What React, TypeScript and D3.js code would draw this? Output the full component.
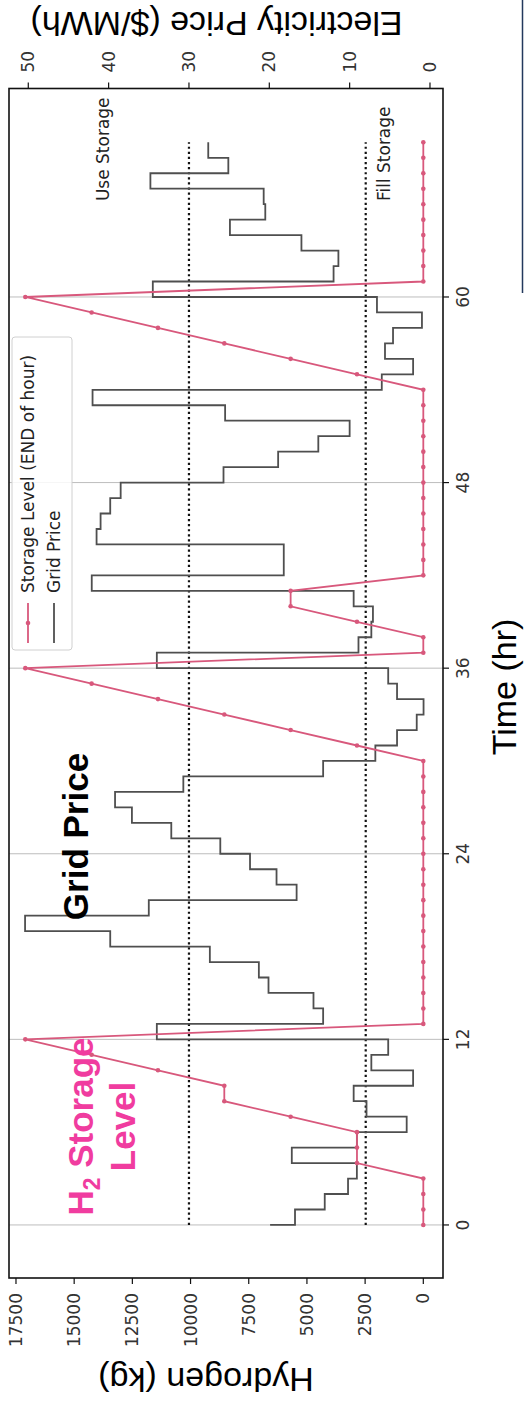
import React from 'react';
import * as d3 from 'd3';

// ---- data (hourly, t = 0..70) ----
const hours: number[] = Array.from({ length: 71 }, (_, i) => i);

// H2 storage level (kg), end of hour
const storageLevel: number[] = [
  0, 0, 0, 0, 2850, 2850, 2850, 5700, 8550, 8550, 11400, 14250, 17100,
  0, 0, 0, 0, 0, 0, 0, 0, 0, 0, 0, 0, 0, 0, 0, 0, 0, 0,
  2850, 5700, 8550, 11400, 14250, 17100,
  0, 0,
  2850, 5700, 5700,
  0, 0, 0, 0, 0, 0, 0, 0, 0, 0, 0, 0, 0,
  2850, 5700, 8550, 11400, 14250, 17100,
  0, 0, 0, 0, 0, 0, 0, 0, 0, 0,
];

// Grid price ($/MWh), drawn as steps (value i holds on hour (i-1, i])
const gridPrice: number[] = [
  19.9, 16.8, 13.1, 10.2, 9.1, 17.2, 9.1, 2.9, 7.9, 9.5, 2.1, 7.3, 5.2,
  34.0, 13.3, 14.5, 20.1, 21.3, 27.4, 39.8, 50.4, 35.0, 16.6, 19.1, 22.4,
  26.1, 32.2, 37.1, 39.2, 30.7, 13.3, 6.8, 4.1, 1.65, 0.8, 4.1, 5.2,
  34.0, 8.9, 7.3, 7.1, 9.5, 42.1, 18.2, 18.2, 41.5, 41.0, 39.8, 38.5,
  25.7, 18.9, 13.9, 10.0, 25.5, 42.0, 6.0, 2.1, 5.6, 4.6, 1.0, 6.6,
  34.5, 12.0, 11.4, 16.0, 24.9, 20.5, 20.7, 34.8, 25.1, 27.6,
];

const timeTicks: number[] = [0, 12, 24, 36, 48, 60];
const hydrogenTicks: number[] = [0, 2500, 5000, 7500, 10000, 12500, 15000, 17500];
const priceTicks: number[] = [0, 10, 20, 30, 40, 50];
const useStorageThreshold = 30;
const fillStorageThreshold = 8;
const thresholdSpan: number[] = [0, 70];
const legendLabels: string[] = ['Storage Level (END of hour)', 'Grid Price'];

const PINK = '#d8587c';
const GRAY = '#4f4f4f';
const MAGENTA = '#f03c9f';
const SANS = '"DejaVu Sans", sans-serif';
const ARIAL = '"Liberation Sans", Arial, sans-serif';

export default function App() {
  const W = 1406; // original (unrotated) chart width
  const x = d3.scaleLinear().domain([-3.43, 73.48]).range([128, 1317.5]);
  const yH = d3.scaleLinear().domain([-846, 17800]).range([443, 9]);
  const yP = d3.scaleLinear().domain([-1.62, 52.4]).range([443, 9]);

  const pricePath =
    d3.line<number>()
      .x((_, i) => x(hours[i]))
      .y((d) => yP(d))
      .curve(d3.curveStepBefore)(gridPrice) || '';
  const storagePath =
    d3.line<number>()
      .x((_, i) => x(hours[i]))
      .y((d) => yH(d))(storageLevel) || '';

  const [x0, x1] = x.range();
  const [yb, yt] = yH.range();
  const tickLen = 6;

  return (
    <svg
      width={524}
      height={1406}
      style={{ position: 'absolute', left: 0, top: 0, background: '#fff' }}
    >
      <rect x={0} y={0} width={524} height={1406} fill="#fff" />
      <g transform={`translate(0,${W}) rotate(-90)`}>
        {/* vertical grid at time ticks */}
        {timeTicks.map((t) => (
          <line key={'g' + t} x1={x(t)} x2={x(t)} y1={yt} y2={yb} stroke="#bdbdbd" strokeWidth={1} />
        ))}
        {/* threshold dotted lines */}
        {[useStorageThreshold, fillStorageThreshold].map((v) => (
          <line
            key={'th' + v}
            x1={x(thresholdSpan[0])}
            x2={x(thresholdSpan[1])}
            y1={yP(v)}
            y2={yP(v)}
            stroke="#111"
            strokeWidth={2.2}
            strokeDasharray="2.2 2.9"
          />
        ))}
        {/* grid price step line */}
        <path d={pricePath} fill="none" stroke={GRAY} strokeWidth={1.8} />
        {/* storage line */}
        <path d={storagePath} fill="none" stroke={PINK} strokeWidth={1.8} />
        {storageLevel.map((v, i) => (
          <circle key={'m' + i} cx={x(hours[i])} cy={yH(v)} r={2.3} fill={PINK} />
        ))}

        {/* frame */}
        <rect x={x0} y={yt} width={x1 - x0} height={yb - yt} fill="none" stroke="#111" strokeWidth={1.6} />

        {/* bottom (time) axis */}
        {timeTicks.map((t) => (
          <g key={'tt' + t}>
            <line x1={x(t)} x2={x(t)} y1={yb} y2={yb + tickLen} stroke="#111" strokeWidth={1.2} />
            <text x={x(t)} y={yb + 26} textAnchor="middle" fontFamily={SANS} fontSize={17} fill="#333">
              {t}
            </text>
          </g>
        ))}
        {/* left (hydrogen) axis */}
        {hydrogenTicks.map((v) => (
          <g key={'ht' + v}>
            <line x1={x0 - tickLen} x2={x0} y1={yH(v)} y2={yH(v)} stroke="#111" strokeWidth={1.2} />
            <text x={x0 - 15} y={yH(v)} dy="0.35em" textAnchor="end" fontFamily={SANS} fontSize={17} fill="#333">
              {v}
            </text>
          </g>
        ))}
        {/* right (price) axis */}
        {priceTicks.map((v) => (
          <g key={'pt' + v}>
            <line x1={x1} x2={x1 + tickLen} y1={yP(v)} y2={yP(v)} stroke="#111" strokeWidth={1.2} />
            <text x={x1 + 16} y={yP(v)} dy="0.35em" textAnchor="start" fontFamily={SANS} fontSize={17} fill="#333">
              {v}
            </text>
          </g>
        ))}

        {/* threshold labels */}
        <text x={x(66.2)} y={yP(40)} fontFamily={SANS} fontSize={17} fill="#222">Use Storage</text>
        <text x={x(66.2)} y={yP(5)} fontFamily={SANS} fontSize={17} fill="#222">Fill Storage</text>

        {/* legend */}
        <g>
          <rect x={756} y={12} width={313} height={60} rx={3} fill="#fff" fillOpacity={0.85} stroke="#d0d0d0" strokeWidth={1} />
          <line x1={763} x2={803} y1={28} y2={28} stroke={PINK} strokeWidth={1.8} />
          <circle cx={783} cy={28} r={2.3} fill={PINK} />
          <text x={813} y={34} fontFamily={SANS} fontSize={17} fill="#222">{legendLabels[0]}</text>
          <line x1={763} x2={803} y1={54} y2={54} stroke={GRAY} strokeWidth={1.8} />
          <text x={813} y={60} fontFamily={SANS} fontSize={17} fill="#222">{legendLabels[1]}</text>
        </g>

        {/* annotations */}
        <text x={279.5} y={93} textAnchor="middle" fontFamily={ARIAL} fontWeight="bold" fontSize={35} fill={MAGENTA}>
          H<tspan fontSize={23} dy={7}>2</tspan><tspan dy={-7}> Storage</tspan>
        </text>
        <text x={279.5} y={135} textAnchor="middle" fontFamily={ARIAL} fontWeight="bold" fontSize={35} fill={MAGENTA}>
          Level
        </text>
        <text x={569.5} y={88} textAnchor="middle" fontFamily={ARIAL} fontWeight="bold" fontSize={35} fill="#000">
          Grid Price
        </text>

        {/* axis titles */}
        <text x={719} y={516} textAnchor="middle" fontFamily={ARIAL} fontSize={34} fill="#000">Time (hr)</text>
        <text transform="translate(38,206) rotate(-90)" textAnchor="middle" fontFamily={ARIAL} fontSize={34} fill="#000">
          Hydrogen (kg)
        </text>
        <text transform="translate(1394,216.5) rotate(-90)" textAnchor="middle" fontFamily={ARIAL} fontSize={34} fill="#000">
          Electricity Price ($/MWh)
        </text>
      </g>
      {/* page border fragment at top right */}
      <line x1={522.5} x2={522.5} y1={0} y2={293} stroke="#23395d" strokeWidth={1.5} />
    </svg>
  );
}
